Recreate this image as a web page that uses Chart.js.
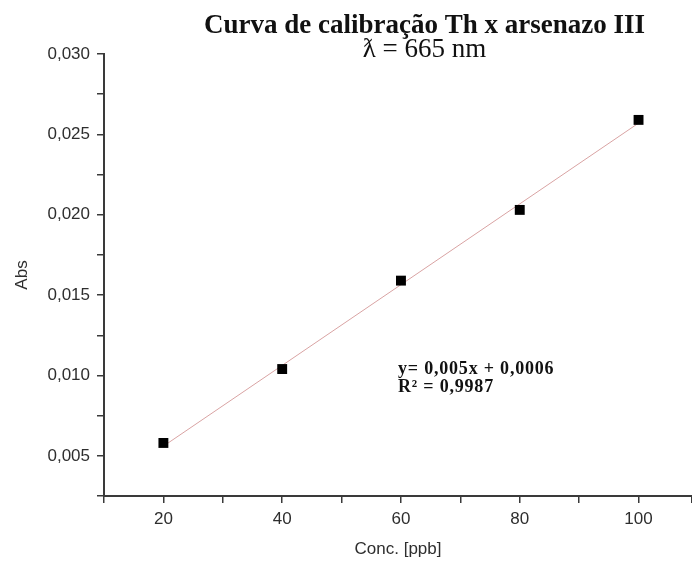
<!DOCTYPE html>
<html>
<head>
<meta charset="utf-8">
<script src="https://cdn.jsdelivr.net/npm/chart.js@4"></script>
<style>
  html, body { margin: 0; padding: 0; background: #fff; }
  #wrap { width: 692px; height: 562px; }
</style>
</head>
<body>
<div id="wrap"><canvas id="chart" width="692" height="562"></canvas></div>
<script>
// measured points
const concValues = [20, 40, 60, 80, 100];
const absValues = [0.0058, 0.0104, 0.0159, 0.0203, 0.0259];

// linear fit drawn across the measured range
const fitX = [20, 100];
const fitY = [0.0056, 0.0257];

const titleLines = ['Curva de calibração Th x arsenazo III', 'ƛ = 665 nm'];
const fitLabels = ['y= 0,005x + 0,0006', 'R² = 0,9987'];

const axisColor = '#3a3a3a';
const labelColor = '#2e2e2e';
const serif = '"Liberation Serif", "DejaVu Serif", "Times New Roman", serif';

const textPlugin = {
  id: 'textPlugin',
  afterDraw(chart) {
    const { ctx, chartArea, scales } = chart;
    ctx.save();
    ctx.fillStyle = '#111';
    ctx.textAlign = 'center';
    ctx.textBaseline = 'alphabetic';
    const cx = chartArea.left + chartArea.width * 0.545;
    ctx.font = 'bold 27px ' + serif;
    ctx.fillText(titleLines[0], cx, 33);
    ctx.font = '27px ' + serif;
    ctx.fillText(titleLines[1], cx, 57);

    // regression annotation
    ctx.textAlign = 'left';
    ctx.font = 'bold 18px ' + serif;
    ctx.letterSpacing = '0.8px';
    const ax = scales.x.getPixelForValue(59.5);
    const ay = scales.y.getPixelForValue(0.0101);
    ctx.fillText(fitLabels[0], ax, ay);
    ctx.fillText(fitLabels[1], ax, ay + 18);
    ctx.restore();
  }
};

const tickFont = { family: '"Liberation Sans", Arial, sans-serif', size: 17 };

new Chart(document.getElementById('chart'), {
  type: 'scatter',
  data: {
    datasets: [
      {
        label: 'fit',
        data: fitX.map((x, i) => ({ x, y: fitY[i] })),
        showLine: true,
        borderColor: '#d9a3a3',
        borderWidth: 1,
        pointRadius: 0,
        order: 2,
      },
      {
        label: 'Abs',
        data: concValues.map((x, i) => ({ x, y: absValues[i] })),
        pointStyle: 'rect',
        pointRadius: 7,
        backgroundColor: '#000',
        borderColor: '#000',
        borderWidth: 0,
        order: 1,
      },
    ],
  },
  options: {
    responsive: false,
    animation: false,
    layout: { autoPadding: false, padding: { top: 54, right: 0, left: 0, bottom: 0 } },
    plugins: {
      legend: { display: false },
      tooltip: { enabled: false },
      title: { display: false },
    },
    scales: {
      x: {
        type: 'linear',
        min: 10,
        max: 109,
        afterFit: (scale) => {
          scale.height = 66;
          scale.paddingRight = 0;
          scale.paddingLeft = 0;
        },
        border: { display: true, color: axisColor, width: 2 },
        grid: { drawOnChartArea: false, drawTicks: true, tickLength: 7, tickColor: axisColor, lineWidth: 1.5 },
        ticks: {
          stepSize: 10,
          padding: 6,
          color: labelColor,
          font: tickFont,
          callback: (v) => (v % 20 === 0 && v >= 20 ? String(v) : ''),
        },
        title: {
          display: true,
          text: 'Conc. [ppb]',
          color: labelColor,
          font: { family: '"Liberation Sans", Arial, sans-serif', size: 17 },
          padding: { top: 0, bottom: 2 },
        },
      },
      y: {
        type: 'linear',
        min: 0.0025,
        max: 0.030,
        afterFit: (scale) => { scale.width = 104; },
        border: { display: true, color: axisColor, width: 2 },
        grid: { drawOnChartArea: false, drawTicks: true, tickLength: 7, tickColor: axisColor, lineWidth: 1.5 },
        ticks: {
          stepSize: 0.0025,
          padding: 7,
          color: labelColor,
          font: tickFont,
          callback: (v) => (Math.round(v * 10000) % 50 === 0 ? v.toFixed(3).replace('.', ',') : ''),
        },
        title: {
          display: true,
          text: 'Abs',
          color: labelColor,
          font: { family: '"Liberation Sans", Arial, sans-serif', size: 17 },
          padding: { top: 12, bottom: 0 },
        },
      },
    },
  },
  plugins: [textPlugin],
});
</script>
</body>
</html>
